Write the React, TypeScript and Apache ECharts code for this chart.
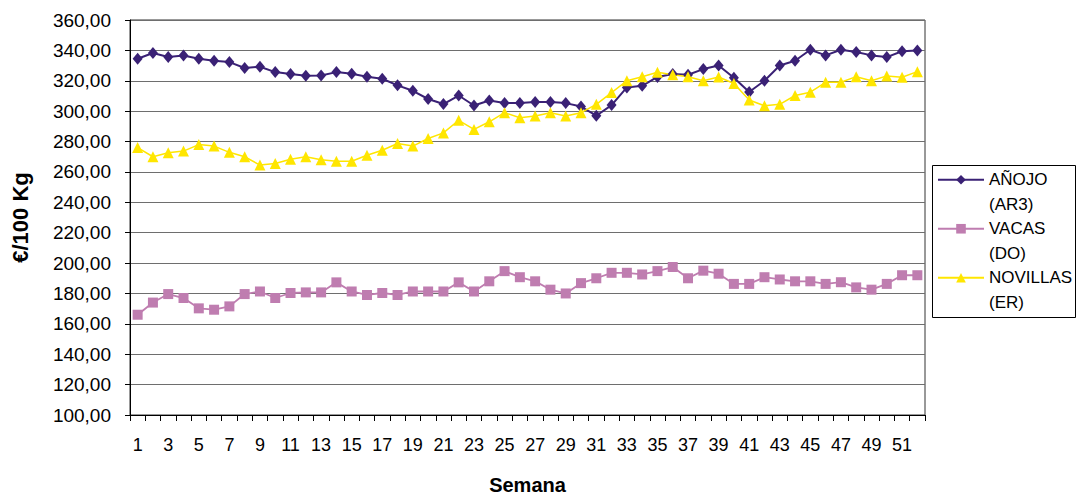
import React, { useEffect, useRef } from "react";
import * as echarts from "echarts";

const weeks: string[] = Array.from({ length: 52 }, (_, i) => String(i + 1));

const anojo: number[] = [
  334.5, 338.3, 335.6, 336.7, 334.5, 333.2, 332.3, 328.4, 329.2, 325.7,
  324.4, 323.3, 323.5, 325.7, 324.6, 322.6, 321.3, 317, 313.4, 308,
  304.7, 310.3, 303.7, 307, 305.3, 305.3, 306, 306, 305.3, 303,
  297, 304, 315.6, 316.7, 322.5, 324.4, 324, 327.7, 330, 322,
  312.6, 320, 330, 333.2, 340.4, 336.7, 340.4, 339, 336.7, 335.6,
  339.4, 340,
];

const vacas: number[] = [
  166, 174, 179.6, 177, 170.2, 169.3, 171.5, 179.6, 181.3, 177,
  180.3, 180.7, 180.7, 187.3, 181.3, 179, 180.3, 179, 181.3, 181.3,
  181.3, 187.3, 181.3, 188, 194.7, 190.7, 188, 182.5, 180, 186.8,
  190, 193.6, 193.6, 192.5, 194.7, 197.4, 190, 195, 193, 186.3,
  186.3, 190.7, 189.2, 188, 188, 186.3, 187.4, 184, 182.5, 186.3,
  192, 192,
];

const novillas: number[] = [
  276, 270, 272.6, 273.7, 278, 277, 272.9, 270, 264.5, 265.6,
  268.4, 270, 268, 267, 267, 271, 274.3, 278.7, 277, 282,
  285.7, 294, 288, 293, 299, 295.7, 296.8, 299, 296.8, 299,
  304.5, 312.2, 320, 322.7, 325.6, 324, 322.7, 320, 322.5, 318.2,
  307.3, 303.5, 304.5, 310.3, 312.5, 319, 319, 322.7, 320, 323.2,
  322.3, 326,
];

const seriesNames: string[] = ["AÑOJO", "VACAS", "NOVILLAS"];
const legendLabels: string[] = ["AÑOJO\n(AR3)", "VACAS\n(DO)", "NOVILLAS\n(ER)"];

const FONT = "'Liberation Sans', Arial, sans-serif";

export default function App() {
  const ref = useRef<HTMLDivElement>(null);

  useEffect(() => {
    document.body.style.margin = "0";
    if (!ref.current) return;
    const chart = echarts.init(ref.current, undefined, { renderer: "svg" });
    const mk = (name: string, data: number[], color: string, symbol: string, size: number | number[], lw: number) => ({
      name,
      type: "line",
      data,
      symbol,
      symbolSize: size,
      showSymbol: true,
      showAllSymbol: true,
      lineStyle: { color, width: lw },
      itemStyle: { color },
      emphasis: { disabled: true },
    });
    chart.setOption({
      animation: false,
      backgroundColor: "#ffffff",
      textStyle: { fontFamily: FONT },
      grid: {
        left: 130,
        top: 20,
        width: 795,
        height: 395,
        show: true,
        borderColor: "#333",
        borderWidth: 1,
        outerBoundsMode: "none",
        containLabel: false,
      },
      legend: {
        orient: "vertical",
        left: 937,
        top: 143,
        padding: 0,
        itemWidth: 46,
        itemHeight: 12,
        itemGap: -24.5,
        data: seriesNames,
        formatter: (name: string) => "\u00a0\n" + legendLabels[seriesNames.indexOf(name)],
        textStyle: { fontSize: 17, color: "#000", fontFamily: FONT, lineHeight: 24.5 },
        selectedMode: false,
      },
      graphic: [
        {
          type: "rect",
          shape: { x: 932.5, y: 165.5, width: 143, height: 152 },
          style: { fill: "none", stroke: "#000", lineWidth: 1 },
          z: 10,
        },
      ],
      xAxis: {
        type: "category",
        data: weeks,
        boundaryGap: true,
        name: "Semana",
        nameLocation: "middle",
        nameGap: 60,
        nameTextStyle: { fontSize: 20, fontWeight: "bold", color: "#000", fontFamily: FONT },
        axisLine: { lineStyle: { color: "#000", width: 1 } },
        axisTick: { show: true, interval: 0, length: 6, lineStyle: { color: "#000" } },
        axisLabel: { interval: 1, fontSize: 18, color: "#000", margin: 21, fontFamily: FONT },
        splitLine: { show: false },
      },
      yAxis: {
        type: "value",
        min: 100,
        max: 360,
        interval: 20,
        name: "€/100 Kg",
        nameLocation: "middle",
        nameGap: 99,
        nameTextStyle: { fontSize: 22, fontWeight: "bold", color: "#000", fontFamily: FONT },
        axisLine: { show: true, lineStyle: { color: "#000", width: 1 } },
        axisTick: { show: true, length: 5, lineStyle: { color: "#000" } },
        axisLabel: {
          fontSize: 19,
          color: "#000",
          margin: 19,
          fontFamily: FONT,
          formatter: (v: number) => v.toFixed(2).replace(".", ","),
        },
        splitLine: { show: true, lineStyle: { color: "#6e6e6e", width: 1 } },
      },
      series: [
        mk(seriesNames[0], anojo, "#3a2175", "diamond", [10, 12], 2),
        mk(seriesNames[1], vacas, "#bf7db0", "rect", 10, 1.8),
        mk(seriesNames[2], novillas, "#ffe600", "triangle", 11, 1.5),
      ],
    });
    return () => chart.dispose();
  }, []);

  return <div ref={ref} style={{ width: 1078, height: 498 }} />;
}
